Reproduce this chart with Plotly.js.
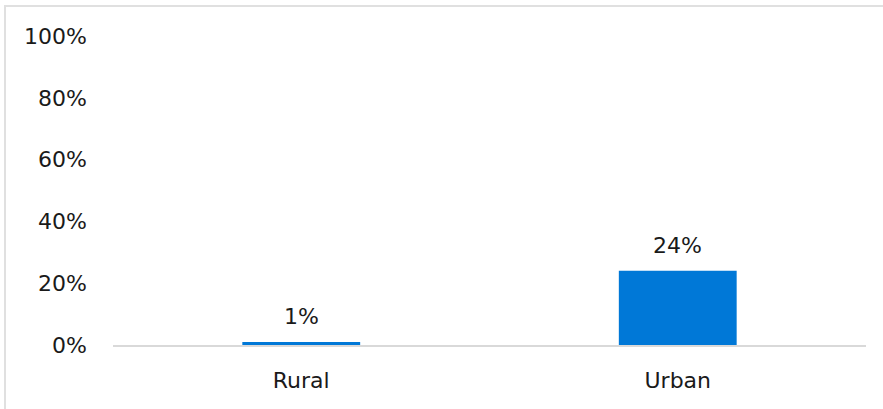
<!DOCTYPE html>
<html>
<head>
<meta charset="utf-8">
<script src="https://cdn.plot.ly/plotly-3.0.1.min.js"></script>
<style>
html,body{margin:0;padding:0;background:#fff;overflow:hidden;}
#frame{position:absolute;left:4px;top:5px;width:920px;height:440px;border:2px solid #e0e0e0;box-sizing:border-box;}
#chart{position:absolute;left:0;top:0;width:883px;height:409px;}
</style>
</head>
<body>
<div id="frame"></div>
<div id="chart"></div>
<script>
var categories = ["Rural", "Urban"];
var values = [0.01, 0.24];
var valueLabels = ["1%", "24%"];
var yTickVals = [0, 0.2, 0.4, 0.6, 0.8, 1.0];
var yTickText = ["0%", "20%", "40%", "60%", "80%", "100%"];

var font = "'DejaVu Sans', sans-serif";
var fcolor = "#1a1a1a";
var fsize = 22;
var trace = {
  type: "bar",
  x: categories,
  y: values,
  marker: {color: "#0078D7"},
  hoverinfo: "none"
};
var annotations = categories.map(function (c, i) {
  return {
    x: c, y: values[i], xref: "x", yref: "y",
    text: valueLabels[i], showarrow: false,
    yanchor: "bottom", yshift: 11,
    font: {family: font, size: fsize, color: fcolor}
  };
});
var layout = {
  width: 883, height: 409,
  margin: {l: 113, r: 17, t: 36, b: 64},
  paper_bgcolor: "rgba(0,0,0,0)",
  plot_bgcolor: "rgba(0,0,0,0)",
  bargap: 0.687,
  showlegend: false,
  annotations: annotations,
  font: {family: font, size: fsize, color: fcolor},
  xaxis: {
    showline: true, linecolor: "#d9d9d9", linewidth: 1.5,
    showgrid: false, zeroline: false, ticks: "",
    ticklabelstandoff: 15,
    tickfont: {family: font, size: fsize, color: fcolor}
  },
  yaxis: {
    range: [0, 1], showgrid: false, zeroline: false, showline: false,
    tickvals: yTickVals, ticktext: yTickText, ticks: "",
    ticklabelstandoff: 25,
    tickfont: {family: font, size: fsize, color: fcolor}
  }
};
Plotly.newPlot("chart", [trace], layout, {staticPlot: true, displayModeBar: false});
</script>
</body>
</html>
